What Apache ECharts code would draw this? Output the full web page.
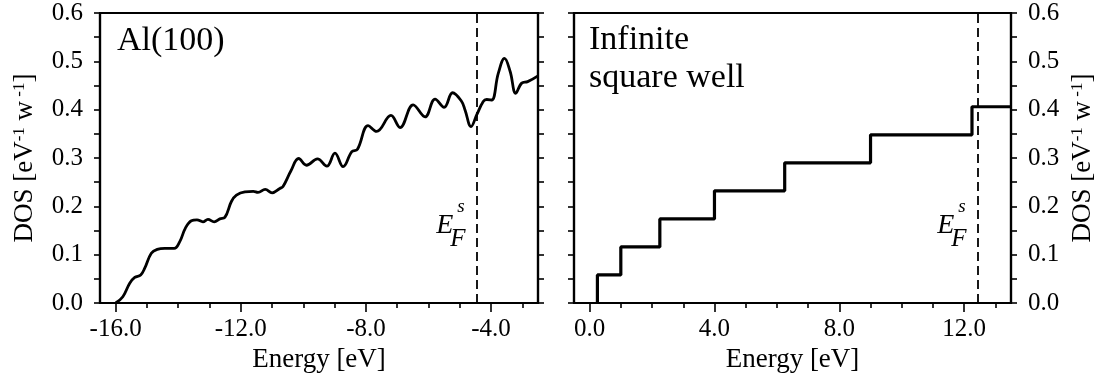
<!DOCTYPE html>
<html>
<head>
<meta charset="utf-8">
<script src="https://cdn.jsdelivr.net/npm/echarts@6/dist/echarts.min.js"></script>
<style>
html,body{margin:0;padding:0;background:#fff;}
#c{width:1097px;height:381px;}
</style>
</head>
<body>
<div id="c"></div>
<script>
// ---- Data ----
const alEnergy = [-16.0,-15.77,-15.55,-15.39,-15.2,-15.07,-14.86,-14.67,-14.43,-14.13,-13.95,-13.77,-13.58,-13.4,-13.21,-13.05,-12.85,-12.67,-12.51,-12.3,-12.14,-11.87,-11.6,-11.45,-11.22,-11.0,-10.75,-10.65,-10.4,-10.15,-9.9,-9.55,-9.25,-8.99,-8.73,-8.45,-8.27,-7.93,-7.66,-7.2,-6.91,-6.49,-6.11,-5.79,-5.5,-5.23,-4.94,-4.83,-4.64,-4.46,-4.25,-4.14,-3.98,-3.77,-3.57,-3.39,-3.21,-3.02,-2.83,-2.5];
const alDos = [0.0,0.013,0.041,0.053,0.058,0.072,0.103,0.111,0.113,0.113,0.127,0.155,0.170,0.172,0.168,0.173,0.168,0.174,0.177,0.210,0.223,0.230,0.231,0.229,0.235,0.228,0.237,0.241,0.273,0.299,0.285,0.298,0.283,0.310,0.282,0.313,0.318,0.367,0.355,0.388,0.363,0.410,0.385,0.422,0.405,0.435,0.417,0.399,0.365,0.389,0.417,0.421,0.420,0.475,0.506,0.479,0.434,0.455,0.458,0.470];
const wellLevels = [0.25, 1.0, 2.25, 4.0, 6.25, 9.0, 12.25];
const wellDos = [0.058, 0.116, 0.174, 0.232, 0.290, 0.348, 0.406];
const fermiLeft = -4.47;
const fermiRight = 12.42;
const leftRange = [-16.5, -2.5];
const rightRange = [-0.5, 13.5];
const leftMajor = [-16, -12, -8, -4];
const rightMajor = [0, 4, 8, 12];
const yTicks = [0, 0.6, 0.1];
const panelTitles = ['Al(100)', 'Infinite\nsquare well'];

// ---- Build ----
const FONT = '"Liberation Serif", "Times New Roman", serif';
const alData = alEnergy.map((e, i) => [e, alDos[i]]);
const wellData = [[wellLevels[0], 0]];
for (let i = 0; i < wellDos.length; i++) {
  const nextX = i + 1 < wellLevels.length ? wellLevels[i + 1] : rightRange[1];
  wellData.push([nextX, wellDos[i]]);
}
function ints(a, b, excl) { const r = []; for (let v = Math.ceil(a); v <= b; v++) if (excl.indexOf(v) < 0) r.push(v); return r; }

const yName = '{t|DOS [eV}{s|-1}{t| w}{s| -1}{t|]}';
const yNameStyle = {
  rich: {
    t: { fontSize: 27, fontFamily: FONT, color: '#000', verticalAlign: 'bottom' },
    s: { fontSize: 17, fontFamily: FONT, color: '#000', verticalAlign: 'bottom', padding: [0, 0, 10, 0] }
  }
};
const lineBlack = { color: '#000', width: 2.2 };

function xMain(grid, range, major) {
  return {
    gridIndex: grid, type: 'value', position: 'bottom', min: range[0], max: range[1],
    axisLine: { show: true, onZero: false, lineStyle: lineBlack },
    axisTick: { show: true, customValues: major, length: 9, lineStyle: { color: '#000', width: 1.6 } },
    axisLabel: { show: true, customValues: major, formatter: v => v.toFixed(1), fontSize: 25, fontFamily: FONT, color: '#000', margin: 14 },
    splitLine: { show: false },
    name: 'Energy [eV]', nameLocation: 'middle', nameGap: 43,
    nameTextStyle: { fontSize: 27, fontFamily: FONT, color: '#000' }
  };
}
function xMinor(grid, range, major) {
  return {
    gridIndex: grid, type: 'value', position: 'bottom', min: range[0], max: range[1],
    axisLine: { show: false },
    axisTick: { show: true, customValues: ints(range[0], range[1], major), length: 5, lineStyle: { color: '#000', width: 1.6 } },
    axisLabel: { show: false }, splitLine: { show: false }
  };
}
function yAx(grid, pos, labels, named) {
  const ax = {
    gridIndex: grid, type: 'value', position: pos, min: yTicks[0], max: yTicks[1], interval: yTicks[2],
    axisLine: { show: true, onZero: false, lineStyle: lineBlack },
    axisTick: { show: true, length: 6, lineStyle: { color: '#000', width: 1.6 } },
    minorTick: { show: true, splitNumber: 2, length: 6, lineStyle: { color: '#000', width: 1.6 } },
    axisLabel: { show: labels, formatter: v => v.toFixed(1), fontSize: 25, fontFamily: FONT, color: '#000', margin: 17 },
    splitLine: { show: false }, minorSplitLine: { show: false }
  };
  if (named) {
    ax.name = yName; ax.nameLocation = 'middle'; ax.nameRotate = 90;
    ax.nameGap = pos === 'left' ? 62 : 58; ax.nameTextStyle = yNameStyle;
  }
  return ax;
}

const chart = echarts.init(document.getElementById('c'), null, { renderer: 'canvas' });
const grids = [
  { left: 100, top: 13, width: 438, height: 290, show: true, borderColor: '#000', borderWidth: 2.2, backgroundColor: 'transparent' },
  { left: 574, top: 13, width: 437, height: 290, show: true, borderColor: '#000', borderWidth: 2.2, backgroundColor: 'transparent' }
];
const fermiStyle = { color: '#000', width: 1.8, type: [9, 5] };
chart.setOption({
  animation: false,
  backgroundColor: '#fff',
  grid: grids,
  xAxis: [xMain(0, leftRange, leftMajor), xMinor(0, leftRange, leftMajor), xMain(1, rightRange, rightMajor), xMinor(1, rightRange, rightMajor)],
  yAxis: [yAx(0, 'left', true, true), yAx(0, 'right', false, false), yAx(1, 'left', false, false), yAx(1, 'right', true, true)],
  series: [
    {
      type: 'line', xAxisIndex: 0, yAxisIndex: 0, data: alData, smooth: 0.4, showSymbol: false,
      lineStyle: { color: '#000', width: 2.8 },
      markLine: { silent: true, symbol: 'none', label: { show: false }, lineStyle: fermiStyle, data: [{ xAxis: fermiLeft }] }
    },
    {
      type: 'line', xAxisIndex: 2, yAxisIndex: 2, data: wellData, step: 'start', showSymbol: false,
      lineStyle: { color: '#000', width: 3.2 },
      markLine: { silent: true, symbol: 'none', label: { show: false }, lineStyle: fermiStyle, data: [{ xAxis: fermiRight }] }
    }
  ]
});

function efLabel(lineX) {
  return [
    { type: 'text', x: lineX - 40, y: 212, style: { text: 'E', font: 'italic 28px ' + FONT, fill: '#000', verticalAlign: 'top' } },
    { type: 'text', x: lineX - 19, y: 197, style: { text: 's', font: 'italic 19px ' + FONT, fill: '#000', verticalAlign: 'top' } },
    { type: 'text', x: lineX - 26, y: 227, style: { text: 'F', font: 'italic 25px ' + FONT, fill: '#000', verticalAlign: 'top' } }
  ];
}
const xl = chart.convertToPixel({ xAxisIndex: 0 }, fermiLeft);
const xr = chart.convertToPixel({ xAxisIndex: 2 }, fermiRight);
chart.setOption({
  graphic: [
    { type: 'text', x: 117, y: 24, style: { text: panelTitles[0], font: '34px ' + FONT, fill: '#000', verticalAlign: 'top' } },
    { type: 'text', x: 589, y: 21, style: { text: panelTitles[1], font: '34px ' + FONT, lineHeight: 38, fill: '#000', verticalAlign: 'top' } }
  ].concat(efLabel(xl), efLabel(xr))
});
</script>
</body>
</html>
